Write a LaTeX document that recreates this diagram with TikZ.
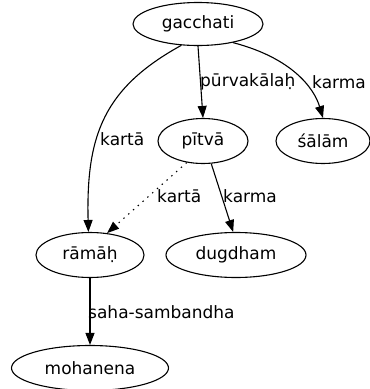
\documentclass[tikz,border=0pt]{standalone}
\usepackage{fontspec}
\setmainfont{DejaVu Sans}
\usetikzlibrary{arrows.meta,shapes.geometric}
\begin{document}
\begin{tikzpicture}[x=1pt,y=-1pt,
  nd/.style={draw,ellipse,line width=1.1pt,inner sep=0pt,font=\fontsize{17}{19}\selectfont},
  lb/.style={anchor=west,inner sep=0pt,font=\fontsize{17}{19}\selectfont},
  ed/.style={line width=1.1pt,-{Triangle[length=12pt,width=9pt]}},
  dot/.style={dash pattern=on 1.4pt off 5pt}]
\useasboundingbox (0,0) rectangle (370,389);
\node[nd,minimum width=130pt,minimum height=43pt] (g) at (198,24) {gacchati};
\node[nd,minimum width=90pt,minimum height=45pt] (p) at (203,141) {pītvā};
\node[nd,minimum width=94pt,minimum height=45pt] (s) at (323,141) {śālām};
\node[nd,minimum width=108pt,minimum height=45pt] (r) at (90,255) {rāmāḥ};
\node[nd,minimum width=140pt,minimum height=45pt] (d) at (236,255) {dugdham};
\node[nd,minimum width=157pt,minimum height=45pt] (m) at (90,368) {mohanena};
\draw[ed] (g.south) -- (p.north);
\draw[ed] (g.-28) .. controls (292,58) and (314,88) .. (s.north);
\draw[ed] (g.232) .. controls (104,88) and (86,135) .. (r.94);
\draw[ed,dot] (p.233) -- (r.52);
\draw[ed] (p.-70) -- (d.97);
\draw[ed] (r.south) -- (m.north);
\node[lb] (l1) at (200,82) {pūrvakālaḥ};
\node[lb] (l2) at (312,82) {karma};
\node[lb] (l3) at (100,139) {kartā};
\node[lb] (l4) at (157,196) {kartā};
\node[lb] (l5) at (223,196) {karma};
\node[lb] (l6) at (88,312) {saha-sambandha};
\end{tikzpicture}
\end{document}
